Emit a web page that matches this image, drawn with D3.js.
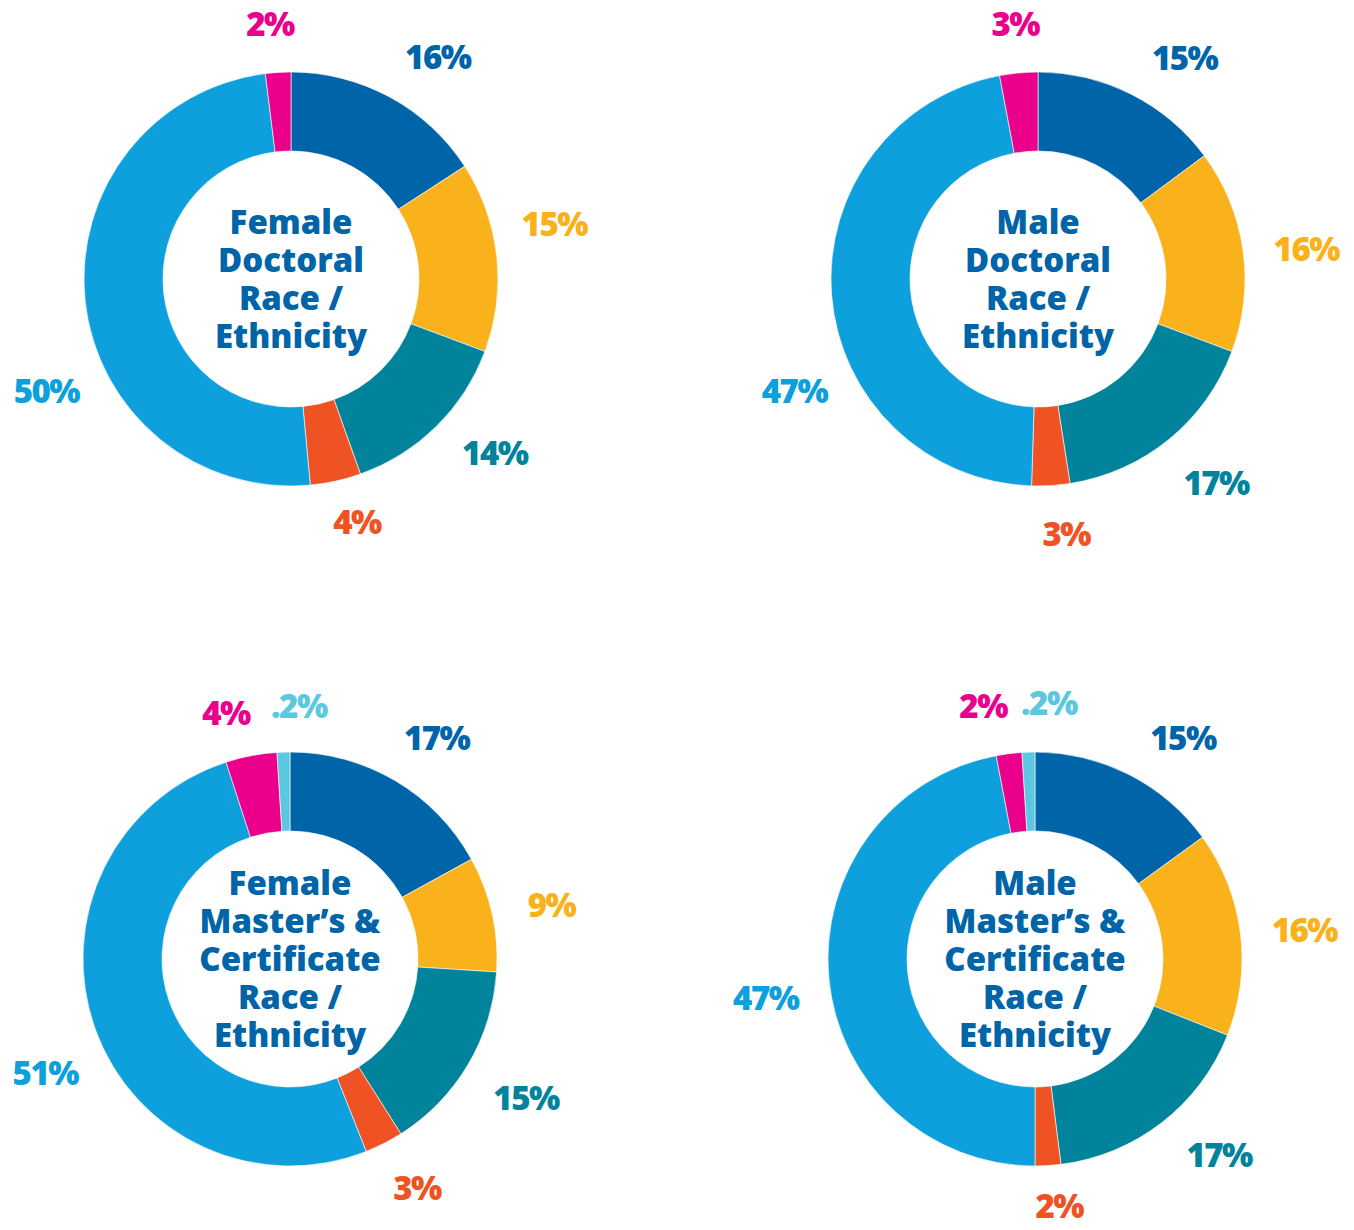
<!DOCTYPE html>
<html>
<head>
<meta charset="utf-8">
<script src="https://cdn.jsdelivr.net/npm/d3@7"></script>
<style>
  html, body { margin: 0; padding: 0; background: #ffffff; }
  svg { display: block; }
  text { font-family: "Open Sans", "Noto Sans", sans-serif; font-weight: 800; }
</style>
</head>
<body>
<svg id="chart" width="1354" height="1230"></svg>
<script>
// ---- Data ----
const categories = ["Group A", "Group B", "Group C", "Group D", "Group E", "Group F", "Group G"];
const femaleDoctoral = [16, 15, 14, 4, 50, 2];
const maleDoctoral = [15, 16, 17, 3, 47, 3];
const femaleMasters = [17, 9, 15, 3, 51, 4, 0.2];
const maleMasters = [15, 16, 17, 2, 47, 2, 0.2];
const titles = [
  ["Female", "Doctoral", "Race /", "Ethnicity"],
  ["Male", "Doctoral", "Race /", "Ethnicity"],
  ["Female", "Master\u2019s &", "Certificate", "Race /", "Ethnicity"],
  ["Male", "Master\u2019s &", "Certificate", "Race /", "Ethnicity"]
];

// ---- Style / layout ----
const colors = ["#0064A8", "#F9B21B", "#00839B", "#F05323", "#0DA0DC", "#EB008B", "#5CC8E0"];
const titleColor = "#0064A8";
const outerR = 207, innerR = 128;
const panels = [
  { cx: 291, cy: 279, values: femaleDoctoral, title: titles[0],
    labelPolar: [[33.5, 266], [78.2, 269], [130.5, 268], [164.8, 252], [245.4, 269], [355.3, 256]] },
  { cx: 1038, cy: 279, values: maleDoctoral, title: titles[1],
    labelPolar: [[33.6, 265], [83.6, 270], [138.9, 271], [173.7, 257], [245.3, 268], [354.9, 256]] },
  { cx: 290, cy: 959, values: femaleMasters, title: titles[2],
    labelPolar: [[33.6, 265], [78.4, 267], [120.5, 274], [151.0, 262], [245.0, 270], [345.4, 254], [2.0, 253]] },
  { cx: 1035, cy: 959, values: maleMasters, title: titles[3],
    labelPolar: [[33.8, 266], [83.8, 271], [136.8, 269], [174.4, 248], [261.7, 272], [348.4, 258], [3.1, 256]] }
];

const svg = d3.select("#chart");
const pie = d3.pie().sort(null).value(d => Math.max(d.value, 1));
const arc = d3.arc().innerRadius(innerR).outerRadius(outerR);
const fmt = v => (v < 1 ? String(v).replace(/^0\./, ".") : String(v)) + "%";

panels.forEach(p => {
  const data = p.values.map((v, i) => ({ value: v, cat: categories[i], i }));
  const g = svg.append("g").attr("transform", `translate(${p.cx},${p.cy})`);

  g.selectAll("path.slice")
    .data(pie(data))
    .join("path")
    .attr("class", "slice")
    .attr("d", arc)
    .attr("fill", d => colors[d.data.i])
    .attr("stroke", "#ffffff")
    .attr("stroke-width", 0.6);

  g.selectAll("text.pct")
    .data(data)
    .join("text")
    .attr("class", "pct")
    .attr("transform", d => {
      const [deg, r] = p.labelPolar[d.i];
      const a = deg * Math.PI / 180;
      return `translate(${r * Math.sin(a)},${-r * Math.cos(a)})`;
    })
    .attr("text-anchor", "middle")
    .attr("dy", "0.36em")
    .attr("font-size", 33)
    .attr("letter-spacing", -1.5)
    .attr("fill", d => colors[d.i])
    .text(d => fmt(d.value));

  const lh = 38;
  const n = p.title.length;
  const firstBaseline = -((n - 1) * lh) / 2 + 12;
  const tg = g.append("g");
  tg.selectAll("text.title")
    .data(p.title)
    .join("text")
    .attr("class", "title")
    .attr("text-anchor", "middle")
    .attr("font-size", 33)
    .attr("fill", titleColor)
    .attr("x", 0)
    .attr("y", (d, i) => firstBaseline + i * lh)
    .text(d => d);
});
</script>
</body>
</html>
